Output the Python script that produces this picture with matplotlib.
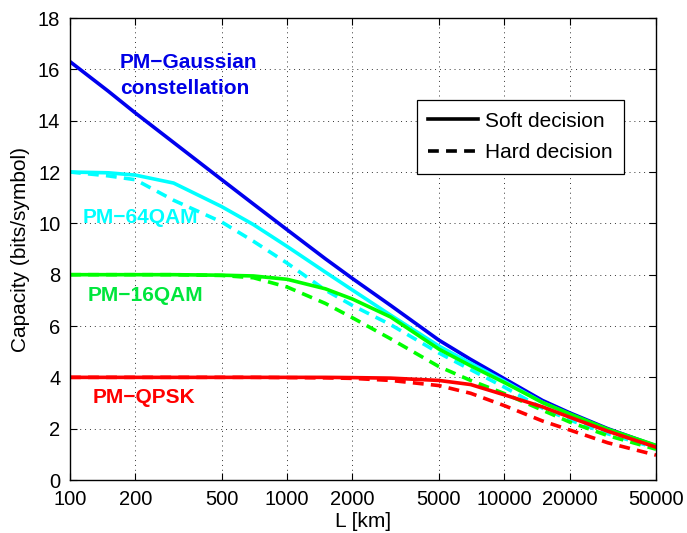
import matplotlib

matplotlib.use("Agg")  # sem janela
import matplotlib.pyplot as plt
from matplotlib.lines import Line2D

plt.rcParams["font.family"] = ["Liberation Sans", "DejaVu Sans"]

# ---------------------------------------------------------------------------
# Dados (capacidade em bits/símbolo vs. distância L em km)
# ---------------------------------------------------------------------------

dist_km = [100, 150, 200, 300, 500, 700, 1000, 1500, 2000, 3000,
           5000, 7000, 10000, 15000, 20000, 30000, 50000]

gauss = [16.3, 15.15, 14.3, 13.15, 11.7, 10.75, 9.75, 8.62, 7.85, 6.8,
         5.45, 4.7, 3.95, 3.1, 2.62, 2.0, 1.33]

qam64_soft = [12.0, 11.97, 11.88, 11.57, 10.65, 9.95, 9.1, 8.1, 7.4, 6.42,
              5.22, 4.55, 3.85, 3.02, 2.56, 1.95, 1.28]
qam64_hard = [12.0, 11.85, 11.7, 10.9, 10.05, 9.3, 8.45, 7.4, 6.8, 6.05,
              4.95, 4.3, 3.62, 2.8, 2.34, 1.8, 1.25]

qam16_soft = [8.0, 8.0, 8.0, 8.0, 7.98, 7.95, 7.82, 7.45, 7.05, 6.35,
              5.1, 4.45, 3.8, 3.02, 2.58, 1.98, 1.35]
qam16_hard = [8.0, 8.0, 8.0, 8.0, 7.97, 7.88, 7.52, 6.88, 6.32, 5.5,
              4.42, 3.88, 3.37, 2.72, 2.26, 1.73, 1.2]

qpsk_soft = [4.0, 4.0, 4.0, 4.0, 4.0, 4.0, 4.0, 4.0, 3.99, 3.97,
             3.88, 3.72, 3.32, 2.85, 2.45, 1.9, 1.28]
qpsk_hard = [4.0, 4.0, 4.0, 4.0, 4.0, 4.0, 3.99, 3.98, 3.96, 3.88,
             3.68, 3.38, 2.9, 2.3, 1.95, 1.45, 0.97]

x_ticks = [100, 200, 500, 1000, 2000, 5000, 10000, 20000, 50000]
y_ticks = [0, 2, 4, 6, 8, 10, 12, 14, 16, 18]

# ---------------------------------------------------------------------------
# Gráfico
# ---------------------------------------------------------------------------

fig = plt.figure(figsize=(6.87, 5.33), dpi=100)
ax = fig.add_axes([0.1019, 0.0994, 0.8530, 0.8668])

lw = 2.6
dash = (3.0, 2.0)

ax.plot(dist_km, gauss, color="#0000ee", linewidth=lw)
ax.plot(dist_km, qam64_soft, color="#00ffff", linewidth=lw)
ax.plot(dist_km, qam64_hard, color="#00ffff", linewidth=lw, linestyle=(0, dash))
ax.plot(dist_km, qam16_soft, color="#00ff00", linewidth=lw)
ax.plot(dist_km, qam16_hard, color="#00ff00", linewidth=lw, linestyle=(0, dash))
ax.plot(dist_km, qpsk_soft, color="#ff0000", linewidth=lw)
ax.plot(dist_km, qpsk_hard, color="#ff0000", linewidth=lw, linestyle=(0, dash))

ax.set_xscale("log")
ax.set_xlim(100, 50000)
ax.set_ylim(0, 18)
ax.set_xticks(x_ticks)
ax.set_xticklabels([str(t) for t in x_ticks])
ax.minorticks_off()
ax.set_yticks(y_ticks)

ax.tick_params(direction="in", length=5, width=0.8, labelsize=14.5,
               top=True, right=True, pad=7)
for s in ax.spines.values():
    s.set_linewidth(1.0)

ax.grid(True, linestyle=(0, (1, 4)), color="black", linewidth=0.7, alpha=0.8)

ax.set_xlabel("L [km]", fontsize=15, labelpad=2)
ax.set_ylabel("Capacity (bits/symbol)", fontsize=15, labelpad=6)

# Rótulos das curvas
lab = dict(fontsize=15, fontweight="bold", ha="left", va="center")
ax.text(170, 16.25, "PM\u2212Gaussian", color="#0000e6", **lab)
ax.text(170, 15.27, "constellation", color="#0000e6", **lab)
ax.text(114, 10.23, "PM\u221264QAM", color="#00ffff", **lab)
ax.text(121, 7.17, "PM\u221216QAM", color="#00e63c", **lab)
ax.text(127, 3.2, "PM\u2212QPSK", color="#ff0000", **lab)

# Legenda (apenas estilo de linha)
handles = [
    Line2D([], [], color="black", linewidth=lw, label="Soft decision"),
    Line2D([], [], color="black", linewidth=lw, linestyle=(0, dash),
           label="Hard decision"),
]
leg = ax.legend(handles=handles, loc="upper left", bbox_to_anchor=(0.592, 0.822),
                fontsize=15, frameon=True, fancybox=False, framealpha=1,
                edgecolor="black", handlelength=2.4, handletextpad=0.3,
                borderpad=0.55, labelspacing=0.6, borderaxespad=0)
leg.get_frame().set_linewidth(0.9)

plt.savefig("out.png", dpi=100)
plt.close()
